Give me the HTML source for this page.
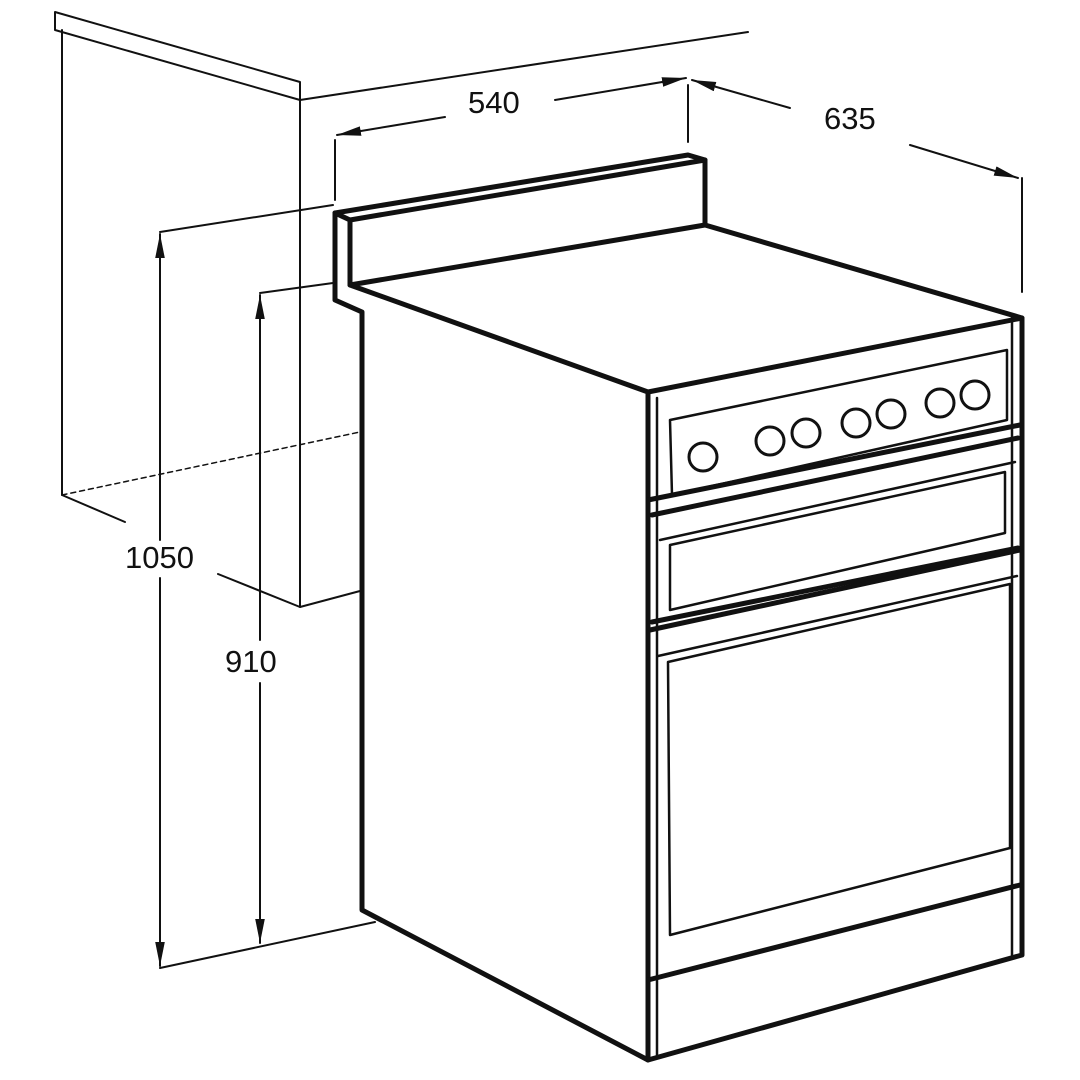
<!DOCTYPE html>
<html><head><style>body{margin:0;background:#fff}svg{display:block}text{font-family:"Liberation Sans",sans-serif;font-size:31px;fill:#111}</style></head><body>
<svg width="1080" height="1080" viewBox="0 0 1080 1080" xmlns="http://www.w3.org/2000/svg">
<defs><marker id="a" viewBox="0 0 10 10" refX="10" refY="5" markerWidth="9" markerHeight="9" orient="auto-start-reverse" markerUnits="userSpaceOnUse"><path d="M0,1 L10,5 L0,9 z" fill="#111"/></marker>
<marker id="b" viewBox="0 0 20 10" refX="20" refY="5" markerWidth="24" markerHeight="12" orient="auto-start-reverse" markerUnits="userSpaceOnUse"><path d="M0,1 L20,5 L0,9 z" fill="#111"/></marker></defs>
<g fill="none" stroke="#111" stroke-linejoin="round" stroke-linecap="round">
<!-- cabinet -->
<g stroke-width="2">
<path d="M55,12 L300,82 L300,100 L55,30 Z"/>
<path d="M300,100 L748,32"/>
<path d="M62,30 L62,495"/>
<path d="M300,100 L300,607 L360,591"/>
<path d="M62,495 L125,522 M218,574 L300,607"/>
<path d="M62,495 L360,432" stroke-dasharray="5,4" stroke-width="1.5"/>
</g>
<!-- dimensions -->
<g stroke-width="2">
<path d="M335,140 L335,200 M688,85 L688,142 M1022,178 L1022,292"/>
<path d="M445,117 L337,135" marker-end="url(#b)"/>
<path d="M555,100 L686,78" marker-end="url(#b)"/>
<path d="M790,108 L692,80" marker-end="url(#b)"/>
<path d="M910,145 L1018,178" marker-end="url(#b)"/>
<path d="M160,232 L333,205 M160,968 L375,922 M260,293 L333,283"/>
<path d="M160,540 L160,234" marker-end="url(#b)"/>
<path d="M160,578 L160,966" marker-end="url(#b)"/>
<path d="M260,640 L260,295" marker-end="url(#b)"/>
<path d="M260,683 L260,943" marker-end="url(#b)"/>
</g>
<!-- stove -->
<g stroke-width="5">
<path d="M335,213 L688,155 L705,160 L705,225"/>
<path d="M350,220 L705,160"/>
<path d="M335,213 L350,220 L350,285 L705,225"/>
<path d="M335,213 L335,300 L362,312 L362,910 L648,1060 L1022,955 L1022,318"/>
<path d="M350,285 L648,392 L1022,318 L705,225"/>
<path d="M648,392 L648,1060"/>
<path d="M648,980 L1020,885"/>
<path d="M648,500 L1020,425"/>
<path d="M650,630 L1020,550"/>
<path d="M652,515 L1018,438"/>
<path d="M652,622 L1018,548"/>
</g>
<g stroke-width="2.5">
<path d="M657,398 L657,1058"/>
<path d="M670,420 L1007,350 L1007,420 L672,495 Z"/>
<path d="M660,540 L1015,462"/>
<path d="M670,545 L1005,472 L1005,533 L670,610 Z"/>
<path d="M658,656 L1017,576"/>
<path d="M668,662 L1010,584 L1010,848 L670,935 Z"/>
<path d="M1012,318 L1012,955"/>
</g>
<g stroke-width="3">
<circle cx="703" cy="457" r="14"/><circle cx="770" cy="441" r="14"/><circle cx="806" cy="433" r="14"/>
<circle cx="856" cy="423" r="14"/><circle cx="891" cy="414" r="14"/><circle cx="940" cy="403" r="14"/><circle cx="975" cy="395" r="14"/>
</g>
</g>
<text x="468" y="113">540</text>
<text x="824" y="129">635</text>
<text x="125" y="568">1050</text>
<text x="225" y="672">910</text>
</svg>
</body></html>
